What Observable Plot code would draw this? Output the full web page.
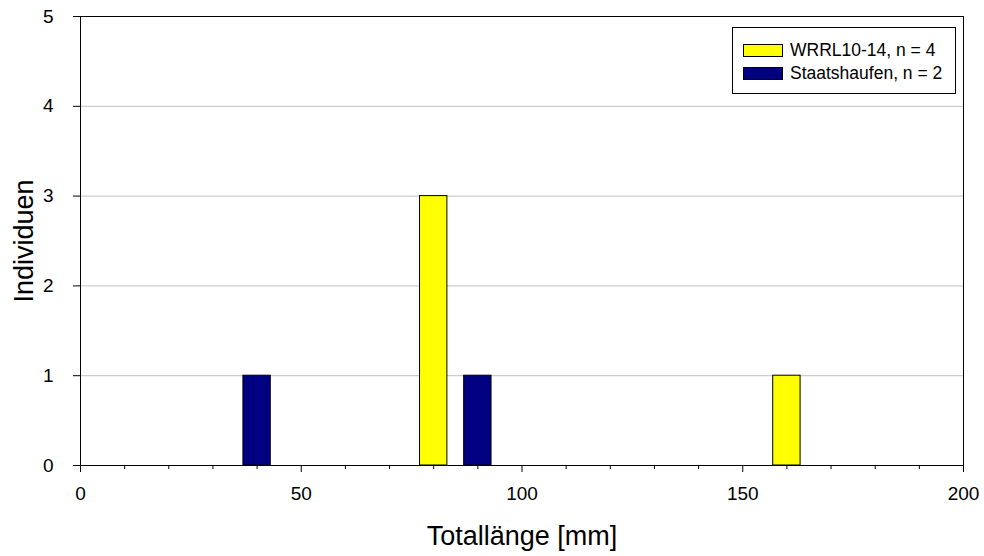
<!DOCTYPE html>
<html>
<head>
<meta charset="utf-8">
<script src="https://cdn.jsdelivr.net/npm/d3@7"></script>
<script src="https://cdn.jsdelivr.net/npm/@observablehq/plot@0.6"></script>
<style>
  body { margin: 0; background: #fff; font-family: Arial, "Liberation Sans", sans-serif; }
  #wrap { position: relative; width: 984px; height: 556px; }
  #legend { position: absolute; left: 732px; top: 27px; width: 222px; height: 65px;
            border: 1px solid #000; background: #fff; font-size: 17.5px; color: #000; }
  .row { position: absolute; left: 10px; height: 20px; display: flex; align-items: center; }
  .sw { width: 38px; height: 11px; border: 1px solid #000; margin-right: 7px; }
</style>
</head>
<body>
<div id="wrap"></div>
<script>
// Data
const seriesNames = ["WRRL10-14", "Staatshaufen"];
const seriesLabels = ["WRRL10-14, n = 4", "Staatshaufen, n = 2"];
const seriesColors = ["#ffff00", "#000080"];
const wrrlLengths = [80, 160];
const wrrlCounts = [3, 1];
const staatsLengths = [40, 90];
const staatsCounts = [1, 1];
const xMajorTicks = [0, 50, 100, 150, 200];
const xMinorTicks = [10, 20, 30, 40, 60, 70, 80, 90, 110, 120, 130, 140, 160, 170, 180, 190];
const yTicks = [0, 1, 2, 3, 4, 5];
const yGrid = [1, 2, 3, 4];
const binHalfWidth = 3.1;

const rows = [
  ...wrrlLengths.map((l, i) => ({series: seriesNames[0], len: l, count: wrrlCounts[i]})),
  ...staatsLengths.map((l, i) => ({series: seriesNames[1], len: l, count: staatsCounts[i]}))
];

const chart = Plot.plot({
  width: 984,
  height: 556,
  marginLeft: 80,
  marginRight: 21,
  marginTop: 16,
  marginBottom: 91,
  style: {fontFamily: 'Arial, "Liberation Sans", sans-serif', color: "#000", background: "#fff"},
  x: {domain: [0, 200]},
  y: {domain: [0, 5]},
  color: {domain: seriesNames, range: seriesColors},
  marks: [
    Plot.gridY(yGrid, {stroke: "#c0c0c0", strokeOpacity: 1}),
    Plot.rect(rows, {
      x1: d => d.len - binHalfWidth, x2: d => d.len + binHalfWidth,
      y1: 0, y2: "count",
      fill: "series", stroke: "#000", strokeWidth: 1
    }),
    Plot.frame({stroke: "#000"}),
    Plot.axisX(xMinorTicks, {tickSize: 4, text: null, label: null, stroke: "#000"}),
    Plot.axisX(xMajorTicks, {tickSize: 7, tickPadding: 14, fontSize: 19, label: null, stroke: "#000", fill: "#000", tickFormat: d => String(d)}),
    Plot.axisY(yTicks, {tickSize: 7, tickPadding: 20, fontSize: 19, label: null, stroke: "#000", fill: "#000", tickFormat: d => String(d)}),
    Plot.text(["Totallänge [mm]"], {frameAnchor: "bottom", textAnchor: "middle", lineAnchor: "bottom", dy: 79, fontSize: 27, fill: "#000"}),
    Plot.text(["Individuen"], {frameAnchor: "left", textAnchor: "middle", lineAnchor: "bottom", rotate: -90, dx: -48, fontSize: 27, fill: "#000"})
  ]
});

const wrap = document.getElementById("wrap");
wrap.appendChild(chart);

const legend = document.createElement("div");
legend.id = "legend";
seriesLabels.forEach((lab, i) => {
  const r = document.createElement("div");
  r.className = "row";
  r.style.top = (12 + i * 23.5) + "px";
  const sw = document.createElement("div");
  sw.className = "sw";
  sw.style.background = seriesColors[i];
  const t = document.createElement("span");
  t.textContent = lab;
  r.appendChild(sw);
  r.appendChild(t);
  legend.appendChild(r);
});
wrap.appendChild(legend);
</script>
</body>
</html>
